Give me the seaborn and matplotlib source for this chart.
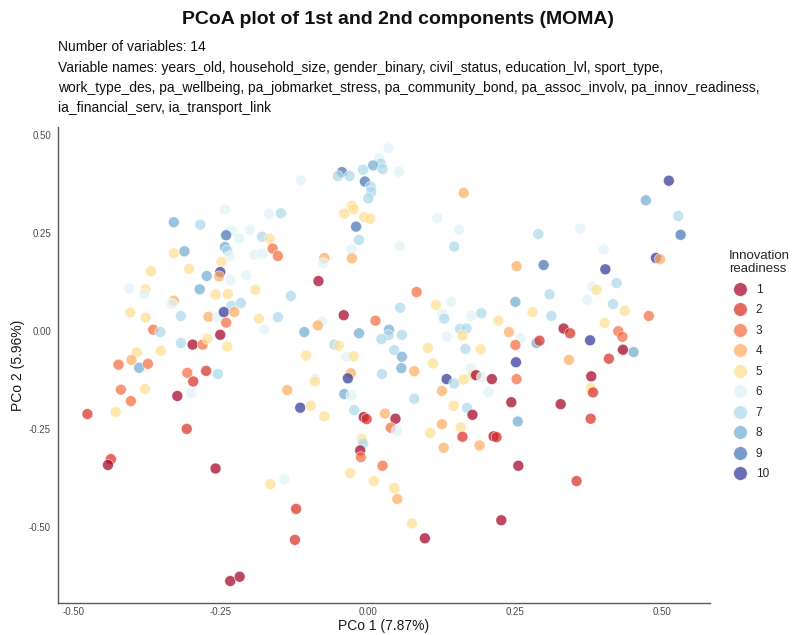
import matplotlib
matplotlib.use("Agg")
import matplotlib.pyplot as plt
import numpy as np
import pandas as pd
import seaborn as sns

# ---- data ----
pco1 = [
    -0.243, -0.168, -0.148, -0.330, -0.285, -0.232, -0.201, -0.241, -0.219, -0.180,
    -0.167, -0.243, -0.239, -0.235, -0.162, -0.153, -0.330, -0.312, -0.193, -0.179,
    -0.249, -0.369, -0.304, -0.274, -0.251, -0.253, -0.207, -0.234, -0.406, -0.378,
    -0.286, -0.191,
    0.035, 0.019, 0.022, 0.009, 0.025, -0.008, 0.053, -0.044, -0.051, -0.031,
    -0.114, -0.005, 0.005, 0.006, 0.001, 0.163, -0.027, -0.024, -0.040, -0.006,
    0.004, 0.118, 0.155, -0.020, -0.015, -0.028, 0.054, 0.147, -0.074, -0.076,
    -0.027, -0.084,
    0.512, 0.473, 0.528, 0.532, 0.290, 0.361, 0.401, 0.253, 0.299, 0.490,
    0.497, 0.404, 0.423, 0.382, 0.389,
    -0.380, -0.259, -0.238, -0.330, -0.333, -0.232, -0.216, -0.404, -0.378, -0.318,
    -0.271, -0.255, -0.245, -0.227, -0.241, -0.185, -0.153, -0.176, -0.365, -0.353,
    -0.318, -0.298, -0.281, -0.273, -0.251, -0.239, -0.393, -0.352, -0.402, -0.424,
    -0.389, -0.374, -0.307, -0.275, -0.297, -0.255, -0.420, -0.379, -0.403, -0.324,
    -0.300, -0.477, -0.429, -0.308,
    -0.131, 0.083, 0.055, 0.116, 0.142, 0.127, 0.130, 0.176, 0.193, 0.222,
    -0.041, 0.013, -0.078, -0.085, -0.108, -0.015, 0.036, 0.035, 0.023, 0.058,
    0.134, 0.157, 0.168, 0.161, -0.057, -0.049, -0.105, -0.037, -0.024, 0.045,
    0.058, 0.057, 0.102, 0.111, 0.166, 0.192, 0.176, 0.079, 0.024, -0.029,
    -0.034, -0.090, -0.090, 0.134, 0.147, 0.163, 0.179, 0.184, 0.194, 0.211,
    0.205, -0.137, -0.040, -0.028, 0.126, 0.079, -0.115, -0.097, -0.074, -0.023,
    -0.007, -0.002, 0.029, 0.047, 0.039, 0.049, 0.146, 0.169, 0.178, 0.126,
    0.106, 0.158, 0.161, 0.214, 0.219, -0.010,
    0.309, 0.251, 0.373, 0.417, 0.437, 0.280, 0.312, 0.478, 0.403, 0.240,
    0.260, 0.251, 0.287, 0.292, 0.333, 0.344, 0.378, 0.426, 0.433, 0.432,
    0.434, 0.452, 0.410, 0.342, 0.252, 0.253, 0.380, 0.379, 0.383, 0.244,
    0.328, 0.255, 0.379,
    -0.437, -0.442, -0.259, -0.166, -0.142, -0.234, -0.218,
    -0.008, -0.013, -0.012, 0.129, 0.190, 0.025, -0.030, 0.010, 0.045, 0.050,
    -0.122, -0.124, 0.075, 0.097,
    0.256, 0.355, 0.227,
]

pco2 = [
    0.310, 0.299, 0.300, 0.277, 0.271, 0.255, 0.258, 0.244, 0.236, 0.240,
    0.235, 0.214, 0.205, 0.190, 0.210, 0.191, 0.198, 0.203, 0.194, 0.197,
    0.176, 0.152, 0.158, 0.140, 0.150, 0.139, 0.142, 0.129, 0.108, 0.106,
    0.106, 0.105,
    0.466, 0.441, 0.427, 0.422, 0.413, 0.411, 0.406, 0.405, 0.395, 0.395,
    0.384, 0.381, 0.368, 0.355, 0.338, 0.352, 0.319, 0.311, 0.299, 0.290,
    0.286, 0.288, 0.258, 0.266, 0.232, 0.208, 0.217, 0.215, 0.186, 0.173,
    0.185, 0.127,
    0.383, 0.333, 0.293, 0.245, 0.247, 0.261, 0.208, 0.165, 0.168, 0.186,
    0.183, 0.157, 0.122, 0.112, 0.105,
    0.094, 0.093, 0.094, 0.077, 0.069, 0.064, 0.071, 0.047, 0.034, 0.038,
    0.036, 0.036, 0.048, 0.048, 0.021, 0.031, 0.035, 0.003, 0.003, -0.003,
    -0.031, -0.035, -0.035, -0.020, -0.010, -0.040, -0.055, -0.051, -0.074, -0.086,
    -0.094, -0.084, -0.107, -0.102, -0.129, -0.110, -0.150, -0.148, -0.179, -0.166,
    -0.158, -0.212, -0.207, -0.250,
    0.089, 0.099, 0.059, 0.066, 0.074, 0.042, 0.031, 0.038, 0.045, 0.026,
    0.040, 0.026, 0.024, 0.014, -0.003, -0.006, 0.003, -0.011, -0.021, -0.010,
    -0.015, 0.005, 0.006, -0.012, -0.035, -0.038, -0.063, -0.066, -0.065, -0.049,
    -0.066, -0.095, -0.044, -0.083, -0.046, -0.047, -0.096, -0.103, -0.110, -0.108,
    -0.121, -0.122, -0.129, -0.123, -0.134, -0.124, -0.113, -0.113, -0.118, -0.123,
    -0.156, -0.151, -0.161, -0.165, -0.153, -0.173, -0.196, -0.191, -0.218, -0.202,
    -0.220, -0.225, -0.211, -0.224, -0.247, -0.255, -0.191, -0.196, -0.214, -0.238,
    -0.260, -0.246, -0.270, -0.269, -0.271, -0.276,
    0.093, 0.074, 0.079, 0.068, 0.051, 0.048, 0.038, 0.038, 0.020, -0.003,
    -0.019, -0.036, -0.031, -0.025, 0.006, -0.006, -0.024, -0.001, -0.015, -0.054,
    -0.048, -0.054, -0.071, -0.074, -0.080, -0.123, -0.116, -0.146, -0.157, -0.182,
    -0.187, -0.231, -0.224,
    -0.327, -0.342, -0.351, -0.391, -0.378, -0.638, -0.627,
    -0.288, -0.305, -0.322, -0.298, -0.292, -0.344, -0.363, -0.383, -0.401, -0.429,
    -0.454, -0.533, -0.491, -0.529,
    -0.344, -0.383, -0.483,
]

readiness = [
    6, 6, 7, 8, 7, 6, 6, 9, 6, 7,
    5, 8, 7, 6, 3, 3, 5, 8, 6, 6,
    5, 5, 5, 8, 10, 4, 6, 6, 6, 5,
    8, 5,
    6, 6, 7, 8, 7, 7, 6, 9, 7, 7,
    6, 9, 7, 7, 7, 4, 5, 5, 5, 5,
    5, 6, 6, 9, 7, 6, 6, 7, 4, 6,
    4, 1,
    10, 8, 7, 9, 7, 6, 6, 4, 9, 10,
    4, 10, 7, 6, 5,
    6, 5, 5, 4, 6, 7, 7, 5, 5, 7,
    4, 6, 10, 4, 3, 5, 7, 6, 3, 7,
    7, 1, 3, 5, 1, 5, 5, 5, 4, 3,
    8, 3, 3, 2, 2, 7, 3, 5, 3, 1,
    6, 2, 5, 2,
    7, 3, 7, 5, 6, 6, 7, 6, 7, 5,
    1, 3, 6, 4, 8, 8, 8, 7, 7, 7,
    6, 7, 7, 5, 7, 5, 5, 6, 5, 7,
    8, 8, 5, 5, 7, 5, 6, 4, 7, 4,
    10, 6, 5, 10, 7, 5, 5, 1, 6, 1,
    6, 4, 8, 6, 4, 7, 10, 5, 5, 7,
    1, 2, 4, 1, 3, 6, 5, 7, 1, 4,
    5, 5, 2, 1, 2, 5,
    7, 8, 6, 7, 5, 5, 7, 3, 5, 4,
    6, 3, 8, 2, 1, 2, 10, 3, 3, 6,
    1, 8, 2, 4, 10, 3, 1, 5, 2, 1,
    1, 8, 2,
    2, 1, 1, 5, 6, 1, 1,
    7, 1, 3, 4, 4, 3, 5, 5, 5, 4,
    2, 2, 5, 1,
    1, 2, 1,
]

levels = [str(i) for i in range(1, 11)]
level_colors = ['#a50026', '#d73027', '#f46d43', '#fdae61', '#fee090',
                '#e0f3f8', '#abd9e9', '#74add1', '#4575b4', '#313695']

title = "PCoA plot of 1st and 2nd components (MOMA)"
subtitle_lines = [
    "Number of variables: 14",
    "Variable names: years_old, household_size, gender_binary, civil_status, education_lvl, sport_type,",
    "work_type_des, pa_wellbeing, pa_jobmarket_stress, pa_community_bond, pa_assoc_involv, pa_innov_readiness,",
    "ia_financial_serv, ia_transport_link",
]
tick_vals = [-0.50, -0.25, 0.00, 0.25, 0.50]

df = pd.DataFrame({"PCo1": pco1, "PCo2": pco2,
                   "readiness": [str(r) for r in readiness]})

sns.set_theme(style="white")
plt.rcParams['font.family'] = ['Liberation Sans', 'DejaVu Sans']

W, H = 795, 635
fig = plt.figure(figsize=(W / 100, H / 100), dpi=100)
ax = fig.add_axes([58 / W, 1 - 603 / H, (710 - 58) / W, (603 - 127) / H])

sns.scatterplot(data=df, x="PCo1", y="PCo2", hue="readiness", hue_order=levels,
                palette=level_colors, s=62, alpha=0.72, edgecolor="white",
                linewidth=0.5, ax=ax, legend="full")

ax.set_xlim(-0.527, 0.582)
ax.set_ylim(-0.694, 0.520)
ax.set_xticks(tick_vals)
ax.set_xticklabels([f"{v:.2f}" for v in tick_vals])
ax.set_yticks(tick_vals)
ax.set_yticklabels([f"{v:.2f}" for v in tick_vals])
ax.tick_params(axis="both", length=0, labelsize=7, labelcolor="#4d4d4d")
ax.tick_params(axis="x", pad=3)
ax.tick_params(axis="y", pad=5)
for side in ["top", "right"]:
    ax.spines[side].set_visible(False)
for side in ["left", "bottom"]:
    ax.spines[side].set_color("#5a5a5a")
    ax.spines[side].set_linewidth(1.0)

ax.set_xlabel("PCo 1 (7.87%)", fontsize=10, color="#1a1a1a", labelpad=1.5)
ax.set_ylabel("PCo 2 (5.96%)", fontsize=10, color="#1a1a1a", labelpad=3)

handles, labels = ax.get_legend_handles_labels()
leg = ax.legend(handles, labels, title="Innovation\nreadiness",
                loc="upper left", bbox_to_anchor=(718 / W, 1 - 239 / H),
                bbox_transform=fig.transFigure, frameon=False,
                fontsize=8.5, title_fontsize=9.5, labelspacing=0.72,
                handletextpad=0.3, markerscale=1.25, alignment="left")

fig.text(0.5, 1 - 20 / H, title, ha="center", va="center",
         fontsize=14, fontweight="bold", color="#111111")
ys = [47, 68, 88, 108]
for line, yy in zip(subtitle_lines, ys):
    fig.text(58 / W, 1 - yy / H, line, ha="left", va="center",
             fontsize=10, color="#111111")

fig.savefig("out.png", dpi=100)
